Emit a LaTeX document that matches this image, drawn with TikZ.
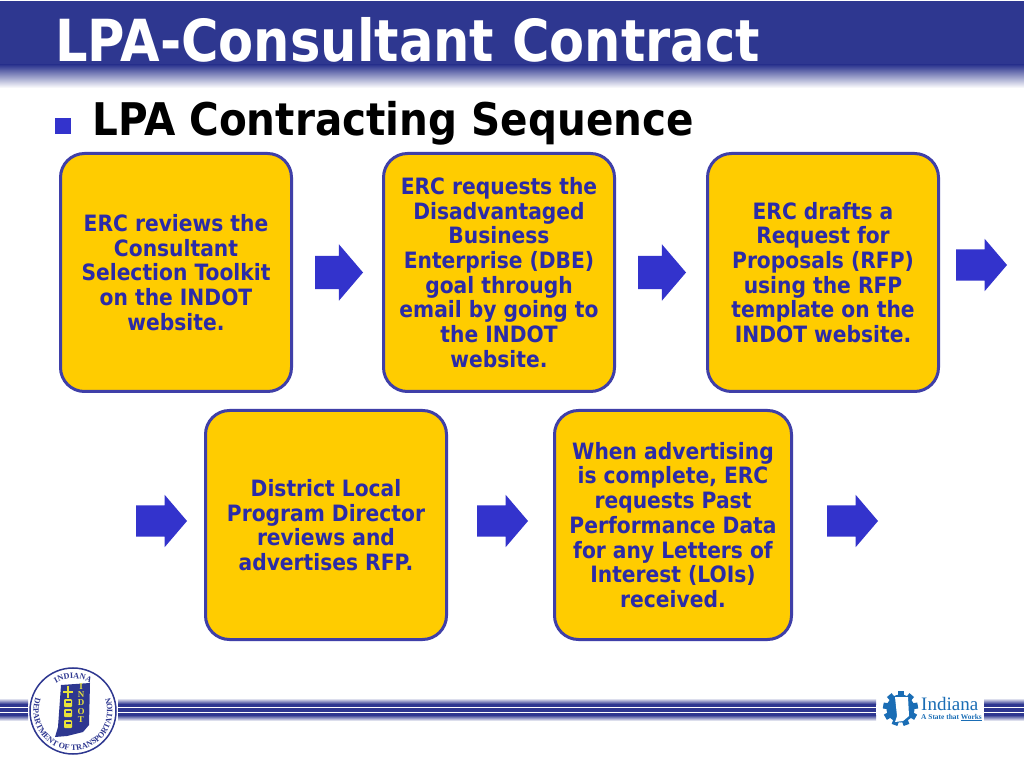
\documentclass[tikz,border=0pt]{standalone}
\usepackage{fontspec}
\setmainfont{DejaVu Sans}[FakeStretch=0.9]
\newfontfamily\titlefont{DejaVu Sans}[FakeStretch=0.881]
\newfontfamily\sealfont{Liberation Serif}
\usetikzlibrary{positioning,shapes.arrows,decorations.text}
\definecolor{bandblue}{HTML}{2E3790}
\definecolor{boxgold}{HTML}{FFCC00}
\definecolor{boxline}{HTML}{3F3FA8}
\definecolor{arrowblue}{HTML}{3333CC}
\definecolor{textblue}{HTML}{2B2BA8}
\definecolor{logoblue}{HTML}{1A6DB5}
\definecolor{sealyellow}{HTML}{E8E23A}
\tikzset{
  x=1pt,y=1pt,
  stepbox/.style={draw=boxline,line width=3pt,fill=boxgold,rounded corners=24pt,outer sep=0pt,
    text=textblue,align=center,inner sep=0pt,font=\bfseries\fontsize{22.5}{24.7}\selectfont},
  nextarrow/.style={single arrow,fill=arrowblue,inner sep=0pt,outer sep=0pt,text height=33pt,text depth=0pt,
    minimum height=48pt,minimum width=56pt,single arrow head extend=11.5pt,single arrow tip angle=99},
  lowarrow/.style={nextarrow,text height=31pt,minimum height=51pt,minimum width=52pt,single arrow head extend=10.5pt},
  sealtext/.style={decorate,decoration={text along path,text align=center,text={#1}}}
}

\begin{document}
\begin{tikzpicture}
    \useasboundingbox (0,0) rectangle (1024,768);
    \fill[white] (0,0) rectangle (1024,768);
    \fill[bandblue] (0,703) rectangle (1024,767);
    \shade[top color=bandblue,bottom color=white] (0,680) rectangle (1024,703);
    \node[anchor=base west,inner sep=0pt,text=white,font=\titlefont\bfseries\fontsize{58}{58}\selectfont] (title) at (55,706) {LPA-Consultant Contract};
    \node[anchor=base west,inner sep=0pt,font=\bfseries\fontsize{45}{45}\selectfont] (sub) at (92,632) {LPA Contracting Sequence};
    \node[fill=arrowblue,minimum size=16pt,inner sep=0pt] (bullet) at (63,642) {};

    \node[stepbox,minimum width=231pt,minimum height=238pt] (s1) at (176,495.5) {ERC reviews the\\Consultant\\Selection Toolkit\\on the INDOT\\website.};
    \node[stepbox,minimum width=231pt,minimum height=238pt,right=92pt of s1] (s2) {ERC requests the\\Disadvantaged\\Business\\Enterprise (DBE)\\goal through\\email by going to\\the INDOT\\website.};
    \node[stepbox,minimum width=231pt,minimum height=238pt,right=93pt of s2] (s3) {ERC drafts a\\Request for\\Proposals (RFP)\\using the RFP\\template on the\\INDOT website.};
    \node[stepbox,minimum width=241pt,minimum height=229pt] (s4) at (326,243) {District Local\\Program Director\\reviews and\\advertises RFP.};
    \node[stepbox,minimum width=237pt,minimum height=229pt,right=108pt of s4] (s5) {When advertising\\is complete, ERC\\requests Past\\Performance Data\\for any Letters of\\Interest (LOIs)\\received.};

    \node[nextarrow,right=23.5pt of s1] (a1) {};
    \node[nextarrow,right=23.5pt of s2] (a2) {};
    \node[lowarrow,right=17.5pt of s3,yshift=7.5pt] (a3) {};
    \node[lowarrow,left=18.5pt of s4,yshift=4pt] (a4) {};
    \node[lowarrow,right=30.5pt of s4,yshift=4pt] (a5) {};
    \node[lowarrow,right=35.5pt of s5,yshift=4pt] (a6) {};

    \foreach \xa/\xb in {0/28,118/876,984/1024}{
      \shade[top color=white,bottom color=bandblue] (\xa,64) rectangle (\xb,70);
      \fill[bandblue] (\xa,53) rectangle (\xb,64);
      \shade[top color=bandblue,bottom color=white] (\xa,47) rectangle (\xb,53);
      \fill[white] (\xa,60) rectangle (\xb,61);
      \fill[white] (\xa,55.5) rectangle (\xb,56.5);
    }

    \node[circle,draw=bandblue,line width=1.5pt,minimum size=86pt,inner sep=0pt,fill=white] (seal) at (73,57) {};
    \path[sealtext={|\sealfont\bfseries\fontsize{8.2}{8.2}\selectfont\color{bandblue}|DEPARTMENT OF TRANSPORTATION}]
      (seal.center) ++(150:39.5) arc (150:390:39.5);
    \path[sealtext={|\sealfont\bfseries\fontsize{8.2}{8.2}\selectfont\color{bandblue}|INDIANA}]
      (seal.center) ++(130:32.5) arc (130:50:32.5);
    \fill[bandblue] (61,83) -- (90,85) -- (89,43) -- (83,36) -- (67,32) -- (55,31) -- (58,41) -- cycle;
    \fill[sealyellow] (67,70) rectangle (69,82);
    \fill[sealyellow] (63,75) -- (73,75) -- (73,77) -- (63,77) -- cycle;
    \foreach \iy in {65,55,44}{
      \fill[sealyellow,rounded corners=1pt] (64,\iy-4) rectangle (72,\iy+4);
      \fill[bandblue] (65.5,\iy) rectangle (70.5,\iy+2.5);
    }
    \foreach \ch/\iy in {I/81,N/73,D/65,O/56,T/48}{
      \node[text=sealyellow,inner sep=0pt,font=\sealfont\bfseries\fontsize{9}{9}\selectfont] at (81,\iy) {\ch};
    }

    \fill[logoblue] (900.5,59.5) circle (14pt);
    \foreach \ang in {0,40,...,320}{
      \fill[logoblue,rotate around={\ang:(900.5,59.5)}] (897.5,70) rectangle (903.5,77);
    }
    \fill[white] (895,71) -- (908,71) -- (909,52) -- (903,47) -- (895,46) -- (897,52) -- cycle;
    \node[anchor=base west,inner sep=0pt,text=logoblue,font=\sealfont\fontsize{19}{19}\selectfont] (brand) at (921,58) {Indiana};
    \node[anchor=base west,inner sep=0pt,text=logoblue,font=\sealfont\bfseries\fontsize{7.4}{7.4}\selectfont] (slogan) at (921,49) {A State that \underline{Works}};
\end{tikzpicture}
\end{document}
